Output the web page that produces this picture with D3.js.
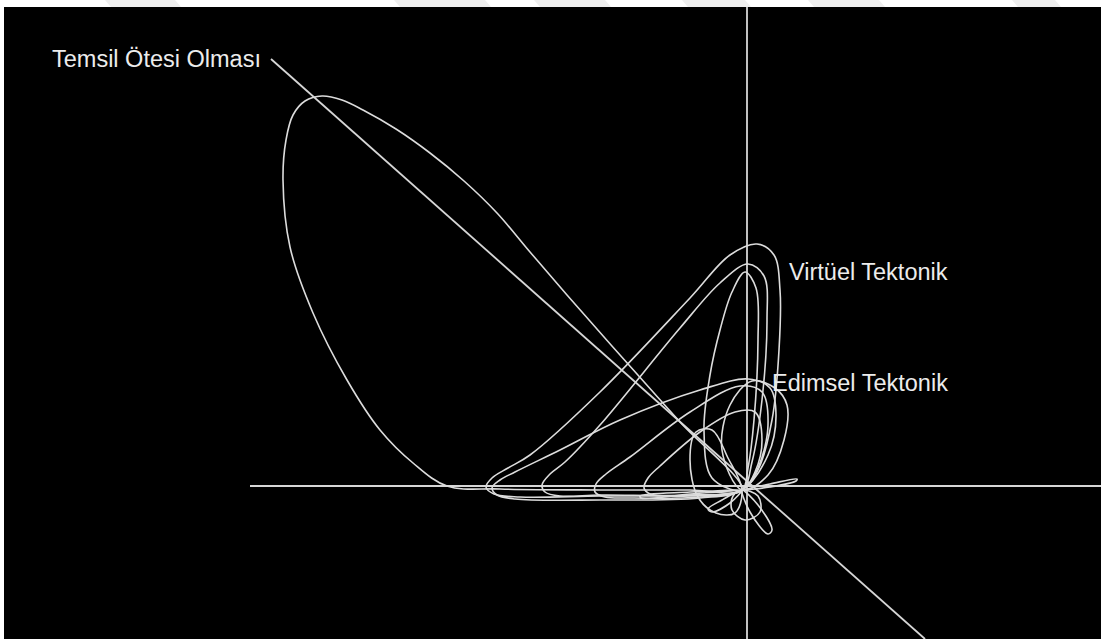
<!DOCTYPE html>
<html>
<head>
<meta charset="utf-8">
<script src="https://cdn.jsdelivr.net/npm/d3@7/dist/d3.min.js"></script>
<style>
  html, body { margin: 0; padding: 0; background: #ffffff; }
  svg { display: block; }
</style>
</head>
<body>
<svg id="chart" width="1101" height="639"></svg>
<script>
// ---- data (arbitrary phase-plane units, origin at the crossing point) ----
const temsilLoop = [[0,0],[-0.62,0.68],[-1.22,1.35],[-1.75,1.95],[-2.12,2.38],[-2.45,2.77],[-2.78,3.09],[-3.12,3.37],[-3.46,3.61],[-3.79,3.80],[-4.00,3.90],[-4.20,3.94],[-4.37,3.89],[-4.49,3.75],[-4.56,3.50],[-4.59,3.10],[-4.52,2.43],[-4.29,1.77],[-3.95,1.10],[-3.62,0.60],[-3.29,0.27],[-2.95,0.04],[-2.42,0.01],[-1.42,0.0],[-0.52,0.0]];
const virtuelLoop1 = [[0,0],[-0.42,-0.05],[-1.42,-0.06],[-2.22,-0.07],[-2.48,-0.04],[-2.56,0.03],[-2.50,0.12],[-2.34,0.22],[-2.12,0.35],[-1.42,0.98],[-0.52,1.92],[-0.12,2.35],[0.15,2.46],[0.32,2.35],[0.38,2.0],[0.37,1.4],[0.30,0.70],[0.16,0.20]];
const virtuelLoop2 = [[0,0],[-0.52,-0.05],[-1.42,-0.05],[-1.82,-0.06],[-1.97,-0.02],[-2.00,0.05],[-1.92,0.16],[-1.77,0.28],[-1.42,0.65],[-0.62,1.62],[-0.22,2.07],[0.06,2.26],[0.22,2.14],[0.25,1.70],[0.20,0.90],[0.10,0.28]];
const virtuelLoop3 = [[0,0],[-0.30,0.12],[-0.38,0.60],[-0.32,1.15],[-0.22,1.60],[-0.10,1.98],[0.03,2.18],[0.14,2.02],[0.16,1.50],[0.12,0.70],[0.06,0.22]];
const edimselLoop1 = [[0,0],[-0.42,-0.08],[-1.42,-0.10],[-2.27,-0.09],[-2.45,-0.05],[-2.50,0.02],[-2.42,0.10],[-2.27,0.18],[-1.82,0.40],[-1.22,0.70],[-0.42,1.00],[0.06,1.11],[0.28,1.02],[0.34,0.75],[0.26,0.35]];
const edimselLoop2 = [[0,0],[-0.42,-0.07],[-1.12,-0.08],[-1.37,-0.07],[-1.47,-0.02],[-1.46,0.06],[-1.36,0.16],[-1.12,0.33],[-0.52,0.78],[-0.02,1.04],[0.20,0.98],[0.26,0.65],[0.16,0.22]];
const edimselLoop3 = [[0,0],[-0.52,-0.06],[-0.77,-0.06],[-0.92,-0.04],[-0.98,0.02],[-0.94,0.12],[-0.82,0.24],[-0.42,0.58],[-0.07,0.78],[0.13,0.78],[0.20,0.50],[0.13,0.18]];
const edimselLoop4 = [[0,0],[-0.20,0.40],[-0.12,0.85],[0.10,1.09],[0.33,1.02],[0.45,0.85],[0.42,0.50],[0.26,0.15]];
const smallLoop1 = [[0,0],[-0.07,-0.23],[-0.26,-0.23],[-0.44,-0.07],[-0.52,0.30],[-0.46,0.58],[-0.30,0.60],[-0.14,0.32]];
const smallLoop2 = [[0,0],[0.16,-0.15],[0.30,-0.40],[0.26,-0.44],[0.08,-0.22]];
const smallLoop3 = [[0,0],[-0.20,-0.10],[-0.34,-0.19],[-0.30,-0.22],[-0.12,-0.13]];
const smallLoop4 = [[0,0],[0.16,-0.06],[0.18,-0.22],[0.03,-0.30],[-0.10,-0.20],[-0.09,-0.06]];
const thinLoopLeft = [[0,0],[-0.52,-0.04],[-1.01,-0.08],[-1.02,-0.06],[-0.52,-0.02]];
const thinLoopRight = [[0,0],[0.28,0.06],[0.55,0.11],[0.54,0.09],[0.28,0.03]];

const loops = [temsilLoop, virtuelLoop1, virtuelLoop2, virtuelLoop3, edimselLoop1, edimselLoop2, edimselLoop3, edimselLoop4, smallLoop1, smallLoop2, smallLoop3, smallLoop4, thinLoopLeft, thinLoopRight];

// reference axes (segments)
const axisHorizontal = [[-4.92,0.04],[3.59,0.04]];
const axisVertical = [[0.05,4.83],[0.05,-1.49]];
const axisDiagonal = [[-4.71,4.31],[1.83,-1.49]];
const axes = [axisHorizontal, axisVertical, axisDiagonal];

const labelTexts = ["Temsil Ötesi Olması", "Virtüel Tektonik", "Edimsel Tektonik"];
const labelAnchors = [[-6.90,4.23],[0.47,2.10],[0.30,0.99]];

// ---- drawing ----
const W = 1101, H = 639;
const svg = d3.select("#chart");

// faint watermark bands at the very top (page background)
const bands = [[105,175],[394,485],[534,605],[682,745],[808,879],[1012,1055]];
svg.selectAll("path.band").data(bands).join("path")
  .attr("class","band")
  .attr("d", d => `M${d[0]},0 L${d[1]},0 L${d[1]+6},7 L${d[0]+6},7 Z`)
  .attr("fill","#efefef");

svg.append("rect").attr("x",4).attr("y",7).attr("width",W-4).attr("height",H-7).attr("fill","#000");

const x = d3.scaleLinear().domain([-7.42, 3.59]).range([0, W]);
const y = d3.scaleLinear().domain([4.90, -1.49]).range([0, H]);

const g = svg.append("g");

const axisLine = d3.line().x(d => x(d[0])).y(d => y(d[1]));
g.selectAll("path.axis").data(axes).join("path")
  .attr("class","axis")
  .attr("d", axisLine)
  .attr("fill","none")
  .attr("stroke","#d6d6d6")
  .attr("stroke-width",1.8);

const loopLine = d3.line().x(d => x(d[0])).y(d => y(d[1])).curve(d3.curveCatmullRomClosed.alpha(0.5));
g.selectAll("path.loop").data(loops).join("path")
  .attr("class","loop")
  .attr("d", loopLine)
  .attr("fill","none")
  .attr("stroke","#dcdcdc")
  .attr("stroke-width",1.6);

g.selectAll("text.lbl").data(labelTexts).join("text")
  .attr("class","lbl")
  .attr("x", (d,i) => x(labelAnchors[i][0]))
  .attr("y", (d,i) => y(labelAnchors[i][1]))
  .attr("fill","#ececec")
  .attr("font-family","Liberation Sans, Arial, sans-serif")
  .attr("font-size",23.5)
  .text(d => d);
</script>
</body>
</html>
